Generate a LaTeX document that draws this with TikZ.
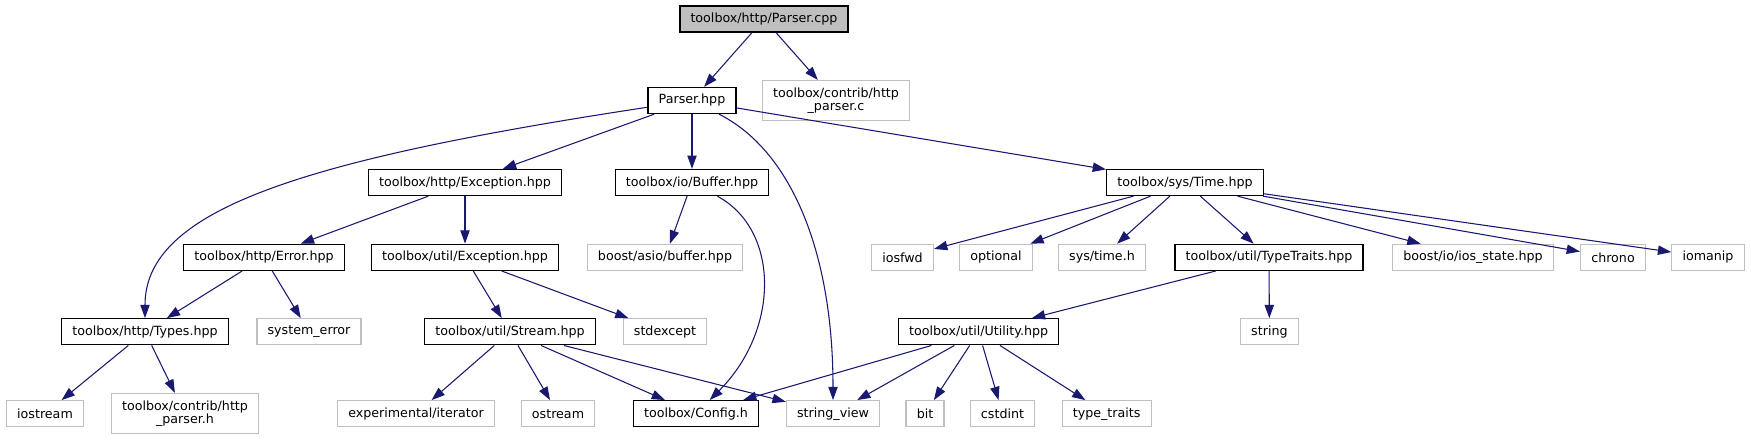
\documentclass[tikz,border=0pt]{standalone}
\usepackage{fontspec}
\setmainfont{DejaVu Sans}
\usetikzlibrary{arrows.meta,positioning}
\definecolor{edgeblue}{RGB}{25,25,112}
\definecolor{extgray}{RGB}{191,191,191}

\begin{document}
\begin{tikzpicture}[x=0.75pt,y=-0.75pt,
  font=\fontsize{9.5}{10}\selectfont,
  doc/.style={draw=black,line width=1pt,fill=white,inner xsep=8pt,inner ysep=0pt,minimum height=19.5pt,align=center},
  ext/.style={doc,draw=extgray,line width=0.9pt},
  two/.style={minimum height=30pt},
  inc/.style={-{Triangle[length=10pt,width=7pt]},color=edgeblue,line width=0.8pt}]
\useasboundingbox (0,0) rectangle (1751,440);
\node[doc,fill=extgray] (pcpp) at (764,19) {toolbox/http/Parser.cpp};
\node[doc] (phpp) at (692,100.5) {Parser.hpp};
\node[ext,two] (hpc) at (836,100.5) {toolbox/contrib/http\\\_parser.c};
\node[doc] (hexc) at (465,182.5) {toolbox/http/Exception.hpp};
\node[doc] (buf) at (692,182.5) {toolbox/io/Buffer.hpp};
\node[doc] (time) at (1185,182.5) {toolbox/sys/Time.hpp};
\node[doc] (herr) at (264,257.3) {toolbox/http/Error.hpp};
\node[doc] (uexc) at (465,257.3) {toolbox/util/Exception.hpp};
\node[ext] (asio) at (665,257.3) {boost/asio/buffer.hpp};
\node[ext] (iosfwd) at (902.5,257.3) {iosfwd};
\node[ext] (optional) at (996,257.3) {optional};
\node[ext] (systime) at (1102,257.3) {sys/time.h};
\node[doc] (ttraits) at (1269,257.3) {toolbox/util/TypeTraits.hpp};
\node[ext] (iostate) at (1473,257.3) {boost/io/ios\_state.hpp};
\node[ext] (chrono) at (1613,257.3) {chrono};
\node[ext] (iomanip) at (1708,257.3) {iomanip};
\node[doc] (types) at (145,331.8) {toolbox/http/Types.hpp};
\node[ext] (syserr) at (309,331.8) {system\_error};
\node[doc] (stream) at (510,331.8) {toolbox/util/Stream.hpp};
\node[ext] (stdexc) at (665,331.8) {stdexcept};
\node[doc] (utility) at (978.6,331.8) {toolbox/util/Utility.hpp};
\node[ext] (string) at (1269.4,331.8) {string};
\node[ext] (iostream) at (45,413.7) {iostream};
\node[ext,two] (hph) at (185,413.5) {toolbox/contrib/http\\\_parser.h};
\node[ext] (expit) at (416,413.7) {experimental/iterator};
\node[ext] (ostream) at (558,413.7) {ostream};
\node[doc] (config) at (696,413.7) {toolbox/Config.h};
\node[ext] (sview) at (833,413.7) {string\_view};
\node[ext] (bit) at (925,413.7) {bit};
\node[ext] (cstdint) at (1002.5,413.7) {cstdint};
\node[ext] (tytraits) at (1106.6,413.7) {type\_traits};
\draw[inc] (pcpp) -- (phpp);
\draw[inc] (pcpp) -- (hpc);
\draw[inc] (phpp) .. controls (300,160) and (145,210) .. (types);
\draw[inc] (phpp) -- (hexc);
\draw[inc] (phpp) -- (buf);
\draw[inc] (phpp) .. controls (790,150) and (833,250) .. (sview);
\draw[inc] (phpp) -- (time);
\draw[inc] (hexc) -- (herr);
\draw[inc] (hexc) -- (uexc);
\draw[inc] (buf) -- (asio);
\draw[inc] (buf) .. controls (780,230) and (780,330) .. (config);
\draw[inc] (time) -- (iosfwd);
\draw[inc] (time) -- (optional);
\draw[inc] (time) -- (systime);
\draw[inc] (time) -- (ttraits);
\draw[inc] (time) -- (iostate);
\draw[inc] (time) -- (chrono);
\draw[inc] (time) -- (iomanip);
\draw[inc] (herr) -- (types);
\draw[inc] (herr) -- (syserr);
\draw[inc] (uexc) -- (stream);
\draw[inc] (uexc) -- (stdexc);
\draw[inc] (ttraits) -- (utility);
\draw[inc] (ttraits) -- (string);
\draw[inc] (types) -- (iostream);
\draw[inc] (types) -- (hph);
\draw[inc] (stream) -- (expit);
\draw[inc] (stream) -- (ostream);
\draw[inc] (stream) -- (config);
\draw[inc] (stream) -- (sview);
\draw[inc] (utility) -- (config);
\draw[inc] (utility) -- (sview);
\draw[inc] (utility) -- (bit);
\draw[inc] (utility) -- (cstdint);
\draw[inc] (utility) -- (tytraits);
\end{tikzpicture}
\end{document}
